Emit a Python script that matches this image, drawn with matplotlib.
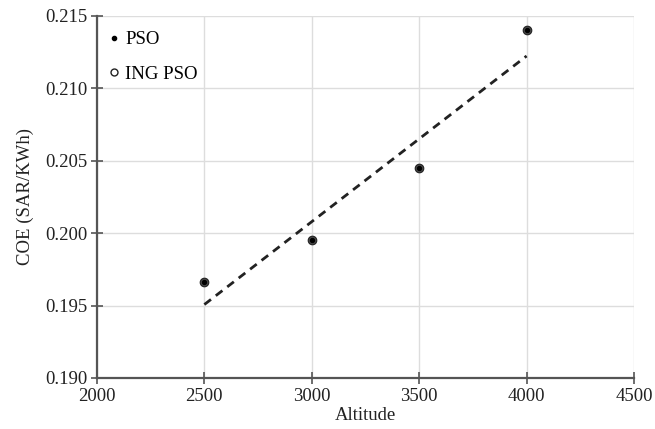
import numpy as np
import matplotlib
matplotlib.use("Agg")
import matplotlib.pyplot as plt
from matplotlib.lines import Line2D

plt.rcParams['font.family'] = ['Liberation Serif', 'DejaVu Serif']

# data
altitude = [2500, 3000, 3500, 4000]
coe_pso = [0.1966, 0.1995, 0.2045, 0.2140]
coe_ing = [0.1966, 0.1995, 0.2045, 0.2140]

fig = plt.figure(figsize=(6.55, 4.29), dpi=100)
ax = fig.add_axes([0.148, 0.119, 0.820, 0.844])

# linear trend line through the points
k, b = np.polyfit(altitude, coe_ing, 1)
xs = np.array([altitude[0], altitude[-1]])
ax.plot(xs, k * xs + b, color='#222222', lw=2, ls=(0, (3, 2.2)), zorder=2)

ax.scatter(altitude, coe_ing, s=38, facecolor='#4a4a4a', edgecolor='#222222', lw=0.8, zorder=3)
ax.scatter(altitude, coe_pso, s=8, color='black', zorder=4)

ax.set_xlim(2000, 4500)
ax.set_ylim(0.190, 0.215)
ax.set_xticks([2000, 2500, 3000, 3500, 4000, 4500])
ax.set_yticks([0.190, 0.195, 0.200, 0.205, 0.210, 0.215])
ax.set_yticklabels(['%.3f' % v for v in ax.get_yticks()])
ax.grid(color='#dddddd', lw=1)
ax.set_axisbelow(True)

for s in ['top', 'right']:
    ax.spines[s].set_visible(False)
for s in ['left', 'bottom']:
    ax.spines[s].set_color('#555555')
    ax.spines[s].set_linewidth(1.6)
ax.tick_params(axis='both', direction='inout', length=8, width=1.2, color='#555555',
               labelsize=13.5, labelcolor='#222222', pad=3)

ax.set_xlabel('Altitude', fontsize=13.5, color='#222222', labelpad=2)
ax.set_ylabel('COE (SAR/KWh)', fontsize=13.5, color='#222222', labelpad=8)

handles = [Line2D([], [], ls='none', marker='o', ms=3, color='black'),
           Line2D([], [], ls='none', marker='o', ms=5, mfc='white', mec='#222222', mew=1)]
ax.legend(handles, ['PSO', 'ING PSO'], loc='upper left', bbox_to_anchor=(-0.01, 1.005),
          frameon=False, fontsize=13.5, handlelength=0.6, handletextpad=0.3,
          labelspacing=0.95)

fig.savefig('out.png', dpi=100)
